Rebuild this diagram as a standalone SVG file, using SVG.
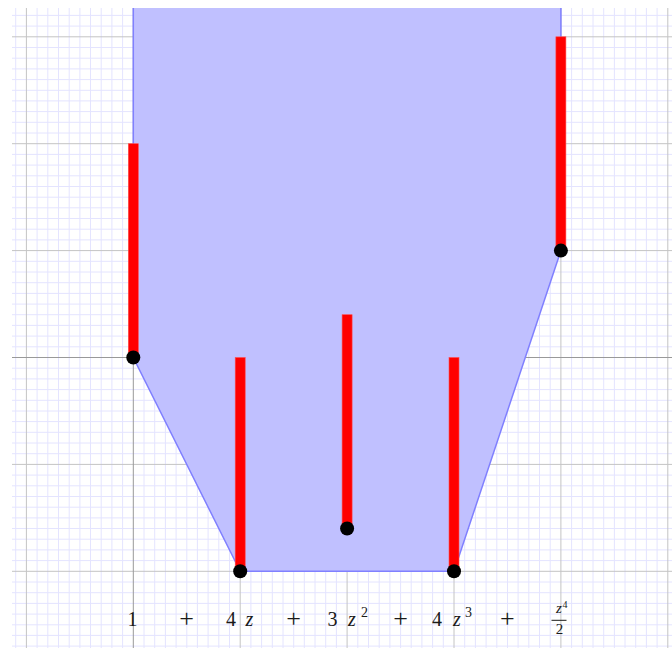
<svg xmlns="http://www.w3.org/2000/svg" width="672" height="648" viewBox="0 0 672 648">
<style>
.minor{stroke:#e4e4ff;stroke-width:1;fill:none}
.major{stroke:#c4c4c4;stroke-width:1;fill:none}
.axis{stroke:#999999;stroke-width:1;fill:none}
.bar{fill:#ff0000;stroke:#ff4d4d;stroke-width:0.6}
.dot{fill:#000000}
</style>
<defs>
<clipPath id="clip"><rect x="12" y="8" width="660" height="640"/></clipPath>
</defs>
<rect width="672" height="648" fill="#ffffff"/>
<g clip-path="url(#clip)">
<g id="grid">
<rect x="12" y="8" width="660" height="640" fill="#ffffff"/>
<path class="minor" d="M15.7 8V648M37.1 8V648M47.8 8V648M58.5 8V648M69.2 8V648M79.9 8V648M90.5 8V648M101.2 8V648M111.9 8V648M122.6 8V648M144 8V648M154.7 8V648M165.4 8V648M176.1 8V648M186.8 8V648M197.4 8V648M208.1 8V648M218.8 8V648M229.5 8V648M250.9 8V648M261.6 8V648M272.3 8V648M283 8V648M293.7 8V648M304.3 8V648M315 8V648M325.7 8V648M336.4 8V648M357.8 8V648M368.5 8V648M379.2 8V648M389.9 8V648M400.6 8V648M411.2 8V648M421.9 8V648M432.6 8V648M443.3 8V648M464.7 8V648M475.4 8V648M486.1 8V648M496.8 8V648M507.5 8V648M518.1 8V648M528.8 8V648M539.5 8V648M550.2 8V648M571.6 8V648M582.3 8V648M593 8V648M603.7 8V648M614.4 8V648M625 8V648M635.7 8V648M646.4 8V648M657.1 8V648
M12 15.4H672M12 26.1H672M12 47.5H672M12 58.2H672M12 68.9H672M12 79.6H672M12 90.3H672M12 100.9H672M12 111.6H672M12 122.3H672M12 133H672M12 154.4H672M12 165.1H672M12 175.8H672M12 186.5H672M12 197.2H672M12 207.8H672M12 218.5H672M12 229.2H672M12 239.9H672M12 261.3H672M12 272H672M12 282.7H672M12 293.4H672M12 304.1H672M12 314.7H672M12 325.4H672M12 336.1H672M12 346.8H672M12 368.2H672M12 378.9H672M12 389.6H672M12 400.3H672M12 411H672M12 421.6H672M12 432.3H672M12 443H672M12 453.7H672M12 475.1H672M12 485.8H672M12 496.5H672M12 507.2H672M12 517.9H672M12 528.5H672M12 539.2H672M12 549.9H672M12 560.6H672M12 582H672M12 592.7H672M12 603.4H672M12 614.1H672M12 624.8H672M12 635.4H672M12 646.1H672"/>
<path class="major" d="M26.4 8V648M240.2 8V648M347.1 8V648M454 8V648M560.9 8V648M667.8 8V648M12 36.8H672M12 143.7H672M12 250.6H672M12 464.4H672M12 571.3H672"/>
<path class="axis" d="M133.3 8V648M12 357.5H672"/>
</g>
<g id="region">
<polygon points="133.3,0 133.3,357.5 240.2,571.3 454,571.3 560.9,250.6 560.9,0" fill="#c0c0ff"/>
<polyline points="133.3,0 133.3,357.5 240.2,571.3 454,571.3 560.9,250.6 560.9,0" fill="none" stroke="#8080ff" stroke-width="1.5"/>
</g>
</g>
<g id="bars">
<rect class="bar" x="128.3" y="143.7" width="10" height="213.8"/>
<rect class="bar" x="235.2" y="357.5" width="10" height="213.8"/>
<rect class="bar" x="342.1" y="314.7" width="10" height="213.8"/>
<rect class="bar" x="449" y="357.5" width="10" height="213.8"/>
<rect class="bar" x="555.9" y="36.8" width="10" height="213.8"/>
</g>
<g id="points">
<circle class="dot" cx="133.3" cy="357.5" r="7"/>
<circle class="dot" cx="240.2" cy="571.3" r="7"/>
<circle class="dot" cx="347.1" cy="528.5" r="7"/>
<circle class="dot" cx="454" cy="571.3" r="7"/>
<circle class="dot" cx="560.9" cy="250.6" r="7"/>
</g>
<g id="labels" font-family="'Liberation Serif', 'Times New Roman', serif" fill="#1a1a1a" font-size="20" text-anchor="middle">
<text x="132.5" y="626">1</text>
<text x="186.7" y="627" font-size="26">+</text>
<text x="231" y="626">4</text>
<text x="249.5" y="626" font-style="italic">z</text>
<text x="293.6" y="627" font-size="26">+</text>
<text x="332.5" y="626">3</text>
<text x="352" y="626" font-style="italic">z</text>
<text x="364.5" y="617" font-size="14">2</text>
<text x="400.5" y="627" font-size="26">+</text>
<text x="437" y="626">4</text>
<text x="457" y="626" font-style="italic">z</text>
<text x="468.5" y="617" font-size="14">3</text>
<text x="507.4" y="627" font-size="26">+</text>
<text x="559" y="613" font-size="15" font-style="italic">z</text>
<text x="565" y="607.5" font-size="10">4</text>
<rect x="551.5" y="619.8" width="15" height="1"/>
<text x="559.5" y="634" font-size="15">2</text>
</g>
</svg>
